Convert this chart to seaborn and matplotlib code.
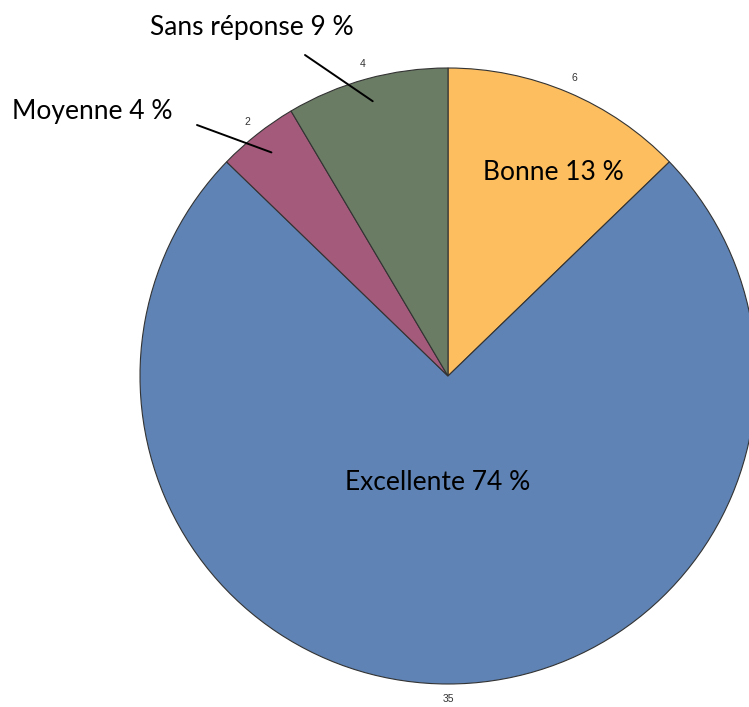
import numpy as np
import matplotlib
matplotlib.use("Agg")
import matplotlib.pyplot as plt
import seaborn as sns

categories = ["Bonne", "Excellente", "Moyenne", "Sans réponse"]
counts = [6, 35, 2, 4]
colors = ["#FDBE5F", "#5E83B4", "#A45A7A", "#6B7C65"]

sns.set_theme(style="white")
plt.rcParams["font.family"] = ["Lato", "DejaVu Sans"]

W, H = 749, 707
fig = plt.figure(figsize=(W / 100, H / 100), dpi=100)
ax = fig.add_axes([0, 0, 1, 1])

cx, cy, R = 448, H - 376, 308
wedges, texts = ax.pie(
    counts, labels=[str(c) for c in counts], colors=colors,
    startangle=90, counterclock=False, center=(cx, cy), radius=R,
    labeldistance=1.05, frame=True,
    wedgeprops=dict(edgecolor="#333333", linewidth=0.8),
    textprops=dict(fontsize=7.5, color="#333333",
                   family=["Liberation Sans Narrow", "Liberation Sans", "DejaVu Sans"]),
)
for t in texts:
    t.set_ha("center")
    t.set_va("center")
ax.set_xlim(0, W)
ax.set_ylim(0, H)
ax.set_aspect("equal")
ax.axis("off")

total = sum(counts)
pct = [int(round(100 * c / total)) for c in counts]
labels = [f"{c} {p} %" for c, p in zip(categories, pct)]

# midpoint angles (degrees, math convention)
cum = np.cumsum([0] + counts)
mid = [90 - 360 * (cum[i] + counts[i] / 2) / total for i in range(len(counts))]

fs = 19
ax.text(553, H - 172, labels[0], ha="center", va="center", fontsize=fs, color="black")
ax.text(438, H - 482, labels[1], ha="center", va="center", fontsize=fs, color="black")
ax.text(92, H - 112, labels[2], ha="center", va="center", fontsize=fs, color="black")
ax.text(252, H - 28, labels[3], ha="center", va="center", fontsize=fs, color="black")

for i, (sx, sy) in [(2, (197, 125)), (3, (305, 55))]:
    a = np.deg2rad(mid[i])
    ex, ey = cx + 0.925 * R * np.cos(a), cy + 0.925 * R * np.sin(a)
    ax.annotate("", xy=(ex, ey), xytext=(sx, H - sy),
                arrowprops=dict(arrowstyle="-", color="black", lw=1.4,
                                shrinkA=0, shrinkB=0))

fig.savefig("out.png", dpi=100)
